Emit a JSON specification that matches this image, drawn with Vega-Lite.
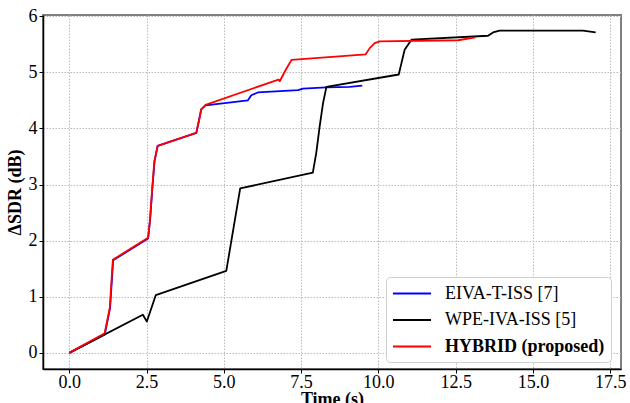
{
  "$schema": "https://vega.github.io/schema/vega-lite/v6.json",
  "width": 578,
  "height": 354,
  "autosize": {"type": "none"},
  "padding": {"left": 43, "top": 15, "right": 9, "bottom": 34},
  "background": "white",
  "config": {
    "font": "Liberation Serif",
    "view": {"stroke": "#808080", "strokeWidth": 2},
    "axis": {
      "domainColor": "black",
      "domainWidth": 1.5,
      "tickColor": "black",
      "tickSize": 4,
      "tickWidth": 1,
      "gridColor": "#bbbbbb",
      "gridDash": [1.5, 1.5],
      "gridWidth": 1
    }
  },
  "data": {
    "values": [
      {"series": "EIVA-T-ISS [7]", "t": 0.0, "v": 0.0},
      {"series": "EIVA-T-ISS [7]", "t": 1.15, "v": 0.33},
      {"series": "EIVA-T-ISS [7]", "t": 1.32, "v": 0.8},
      {"series": "EIVA-T-ISS [7]", "t": 1.42, "v": 1.65},
      {"series": "EIVA-T-ISS [7]", "t": 2.55, "v": 2.04},
      {"series": "EIVA-T-ISS [7]", "t": 2.62, "v": 2.4},
      {"series": "EIVA-T-ISS [7]", "t": 2.69, "v": 2.95},
      {"series": "EIVA-T-ISS [7]", "t": 2.76, "v": 3.42},
      {"series": "EIVA-T-ISS [7]", "t": 2.86, "v": 3.69},
      {"series": "EIVA-T-ISS [7]", "t": 4.11, "v": 3.92},
      {"series": "EIVA-T-ISS [7]", "t": 4.2, "v": 4.15},
      {"series": "EIVA-T-ISS [7]", "t": 4.27, "v": 4.34},
      {"series": "EIVA-T-ISS [7]", "t": 4.41, "v": 4.41},
      {"series": "EIVA-T-ISS [7]", "t": 5.78, "v": 4.5},
      {"series": "EIVA-T-ISS [7]", "t": 5.89, "v": 4.59},
      {"series": "EIVA-T-ISS [7]", "t": 6.1, "v": 4.64},
      {"series": "EIVA-T-ISS [7]", "t": 7.4, "v": 4.68},
      {"series": "EIVA-T-ISS [7]", "t": 7.56, "v": 4.71},
      {"series": "EIVA-T-ISS [7]", "t": 8.32, "v": 4.73},
      {"series": "EIVA-T-ISS [7]", "t": 9.07, "v": 4.74},
      {"series": "EIVA-T-ISS [7]", "t": 9.48, "v": 4.76},
      {"series": "WPE-IVA-ISS [5]", "t": 0.0, "v": 0.0},
      {"series": "WPE-IVA-ISS [5]", "t": 2.38, "v": 0.68},
      {"series": "WPE-IVA-ISS [5]", "t": 2.51, "v": 0.56},
      {"series": "WPE-IVA-ISS [5]", "t": 2.8, "v": 1.03},
      {"series": "WPE-IVA-ISS [5]", "t": 5.08, "v": 1.46},
      {"series": "WPE-IVA-ISS [5]", "t": 5.53, "v": 2.93},
      {"series": "WPE-IVA-ISS [5]", "t": 7.88, "v": 3.21},
      {"series": "WPE-IVA-ISS [5]", "t": 7.99, "v": 3.56},
      {"series": "WPE-IVA-ISS [5]", "t": 8.1, "v": 4.03},
      {"series": "WPE-IVA-ISS [5]", "t": 8.21, "v": 4.45},
      {"series": "WPE-IVA-ISS [5]", "t": 8.32, "v": 4.74},
      {"series": "WPE-IVA-ISS [5]", "t": 10.66, "v": 4.96},
      {"series": "WPE-IVA-ISS [5]", "t": 10.72, "v": 5.1},
      {"series": "WPE-IVA-ISS [5]", "t": 10.85, "v": 5.4},
      {"series": "WPE-IVA-ISS [5]", "t": 11.07, "v": 5.58},
      {"series": "WPE-IVA-ISS [5]", "t": 13.55, "v": 5.65},
      {"series": "WPE-IVA-ISS [5]", "t": 13.71, "v": 5.71},
      {"series": "WPE-IVA-ISS [5]", "t": 13.92, "v": 5.74},
      {"series": "WPE-IVA-ISS [5]", "t": 16.62, "v": 5.74},
      {"series": "WPE-IVA-ISS [5]", "t": 17.03, "v": 5.71},
      {"series": "HYBRID (proposed)", "t": 0.0, "v": 0.0},
      {"series": "HYBRID (proposed)", "t": 1.145, "v": 0.35},
      {"series": "HYBRID (proposed)", "t": 1.31, "v": 0.8},
      {"series": "HYBRID (proposed)", "t": 1.41, "v": 1.66},
      {"series": "HYBRID (proposed)", "t": 2.55, "v": 2.05},
      {"series": "HYBRID (proposed)", "t": 2.6, "v": 2.3},
      {"series": "HYBRID (proposed)", "t": 2.68, "v": 2.9},
      {"series": "HYBRID (proposed)", "t": 2.75, "v": 3.4},
      {"series": "HYBRID (proposed)", "t": 2.86, "v": 3.69},
      {"series": "HYBRID (proposed)", "t": 4.11, "v": 3.92},
      {"series": "HYBRID (proposed)", "t": 4.2, "v": 4.15},
      {"series": "HYBRID (proposed)", "t": 4.27, "v": 4.34},
      {"series": "HYBRID (proposed)", "t": 4.41, "v": 4.42},
      {"series": "HYBRID (proposed)", "t": 6.77, "v": 4.87},
      {"series": "HYBRID (proposed)", "t": 6.81, "v": 4.84},
      {"series": "HYBRID (proposed)", "t": 7.0, "v": 5.04},
      {"series": "HYBRID (proposed)", "t": 7.19, "v": 5.22},
      {"series": "HYBRID (proposed)", "t": 9.59, "v": 5.32},
      {"series": "HYBRID (proposed)", "t": 9.72, "v": 5.43},
      {"series": "HYBRID (proposed)", "t": 9.88, "v": 5.52},
      {"series": "HYBRID (proposed)", "t": 10.04, "v": 5.55},
      {"series": "HYBRID (proposed)", "t": 12.58, "v": 5.57},
      {"series": "HYBRID (proposed)", "t": 13.14, "v": 5.62}
    ]
  },
  "mark": {"type": "line", "strokeCap": "butt", "strokeJoin": "round"},
  "encoding": {
    "x": {
      "field": "t",
      "type": "quantitative",
      "scale": {"domain": [-0.85, 17.85], "nice": false, "zero": false},
      "axis": {
        "title": "Time (s)",
        "values": [0, 2.5, 5, 7.5, 10, 12.5, 15, 17.5],
        "format": ".1f",
        "labelFont": "Liberation Serif",
        "labelFontSize": 18,
        "labelColor": "black",
        "titleFont": "Liberation Serif",
        "titleFontSize": 18,
        "titleFontWeight": "bold",
        "titleColor": "black",
        "labelPadding": 0,
        "titlePadding": -1,
        "labelFlush": false
      }
    },
    "y": {
      "field": "v",
      "type": "quantitative",
      "scale": {"domain": [-0.287, 6.02], "nice": false, "zero": false},
      "axis": {
        "title": "ΔSDR (dB)",
        "values": [0, 1, 2, 3, 4, 5, 6],
        "format": "d",
        "labelFont": "Liberation Serif",
        "labelFontSize": 18,
        "labelColor": "black",
        "titleFont": "Liberation Serif",
        "titleFontSize": 18,
        "titleFontWeight": "bold",
        "titleColor": "black",
        "labelPadding": 2,
        "titlePadding": 4,
        "labelFlush": false
      }
    },
    "color": {
      "field": "series",
      "type": "nominal",
      "scale": {
        "domain": ["EIVA-T-ISS [7]", "WPE-IVA-ISS [5]", "HYBRID (proposed)"],
        "range": ["#0000ff", "#000000", "#ff0000"]
      },
      "legend": {
        "title": null,
        "orient": "none",
        "legendX": 343,
        "legendY": 262,
        "symbolType": "M-1,0H3",
        "symbolSize": 361,
        "symbolStrokeWidth": 2,
        "labelFont": "Liberation Serif",
        "labelFontSize": 18,
        "labelColor": "black",
        "labelOffset": 32,
        "labelLimit": 300,
        "rowPadding": 6.5,
        "padding": 6,
        "fillColor": "white",
        "strokeColor": "#d0d0d0",
        "cornerRadius": 4,
        "encode": {
          "labels": {
            "update": {
              "fontWeight": {"signal": "datum.label === 'HYBRID (proposed)' ? 'bold' : 'normal'"}
            }
          }
        }
      }
    },
    "strokeWidth": {
      "field": "series",
      "type": "nominal",
      "scale": {
        "domain": ["EIVA-T-ISS [7]", "WPE-IVA-ISS [5]", "HYBRID (proposed)"],
        "range": [1.8, 1.8, 2.6]
      },
      "legend": null
    }
  }
}
